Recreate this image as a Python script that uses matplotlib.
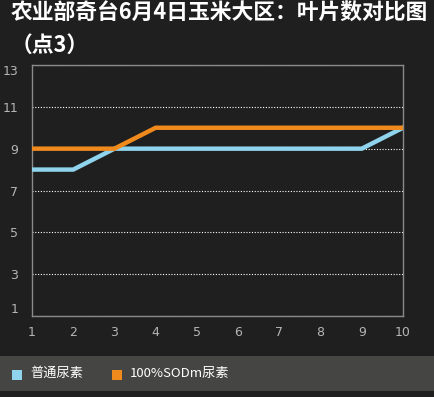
import matplotlib
matplotlib.use("Agg")
import matplotlib.pyplot as plt
from matplotlib.patches import Rectangle

plt.rcParams['font.family'] = ['Noto Sans CJK SC', 'DejaVu Sans']

title = "农业部奇台6月4日玉米大区：叶片数对比图\n（点3）"
x_vals = [1, 2, 3, 4, 5, 6, 7, 8, 9, 10]
series_names = ["普通尿素", "100%SODm尿素"]
urea = [8, 8, 9, 9, 9, 9, 9, 9, 9, 10]
sod_urea = [9, 9, 9, 10, 10, 10, 10, 10, 10, 10]
y_ticks = [1, 3, 5, 7, 9, 11, 13]
colors = ["#8fd3ec", "#f08a1c"]

W, H = 434, 397
fig = plt.figure(figsize=(W / 100, H / 100), dpi=100)
bg = "#1f1f1f"
fig.patch.set_facecolor(bg)

ax = fig.add_axes([32 / W, (H - 316) / H, (403 - 32) / W, (316 - 65) / H])
ax.set_facecolor(bg)

ax.plot(x_vals, urea, color=colors[0], lw=3.2, zorder=3, solid_joinstyle='miter')
ax.plot(x_vals, sod_urea, color=colors[1], lw=3.2, zorder=4, solid_joinstyle='miter')

ax.set_xlim(1, 10)
ax.set_ylim(1, 13)
ax.set_xticks(x_vals)
ax.set_yticks(y_ticks)
ax.grid(axis='y', color='white', linestyle=(0, (1, 1.5)), lw=0.8, zorder=1)
ax.grid(axis='x', visible=False)
for s in ax.spines.values():
    s.set_color("#8a8a8a")
    s.set_linewidth(1.0)
ax.tick_params(length=0, colors="#b5b5b5", labelsize=9, pad=7)
ax.tick_params(axis='y', pad=10)
ylabels = ax.get_yticklabels()
ylabels[-1].set_va('top')
ylabels[0].set_va('bottom')
for lab in ax.get_xticklabels() + ax.get_yticklabels():
    lab.set_family('DejaVu Sans')

lines = title.split("\n")
fig.text(11 / W, 1 - 13 / H, lines[0], color="white", fontsize=15.7,
         fontweight='bold', ha='left', va='center')
fig.text(11 / W, 1 - 45 / H, lines[1], color="white", fontsize=15.7,
         fontweight='bold', ha='left', va='center')

# legend band
fig.patches.append(Rectangle((0, (H - 391) / H), 1, 35 / H, transform=fig.transFigure,
                             facecolor="#454643", edgecolor='none', zorder=0))
leg_x = [12, 112]
txt_x = [30, 130]
for i, name in enumerate(series_names):
    fig.patches.append(Rectangle((leg_x[i] / W, (H - 380) / H), 10 / W, 10 / H,
                                 transform=fig.transFigure, facecolor=colors[i],
                                 edgecolor='none', zorder=1))
    fig.text(txt_x[i] / W, (H - 373) / H, name, color="white", fontsize=9.5,
             ha='left', va='center')

fig.savefig("out.png", dpi=100, facecolor=bg)
